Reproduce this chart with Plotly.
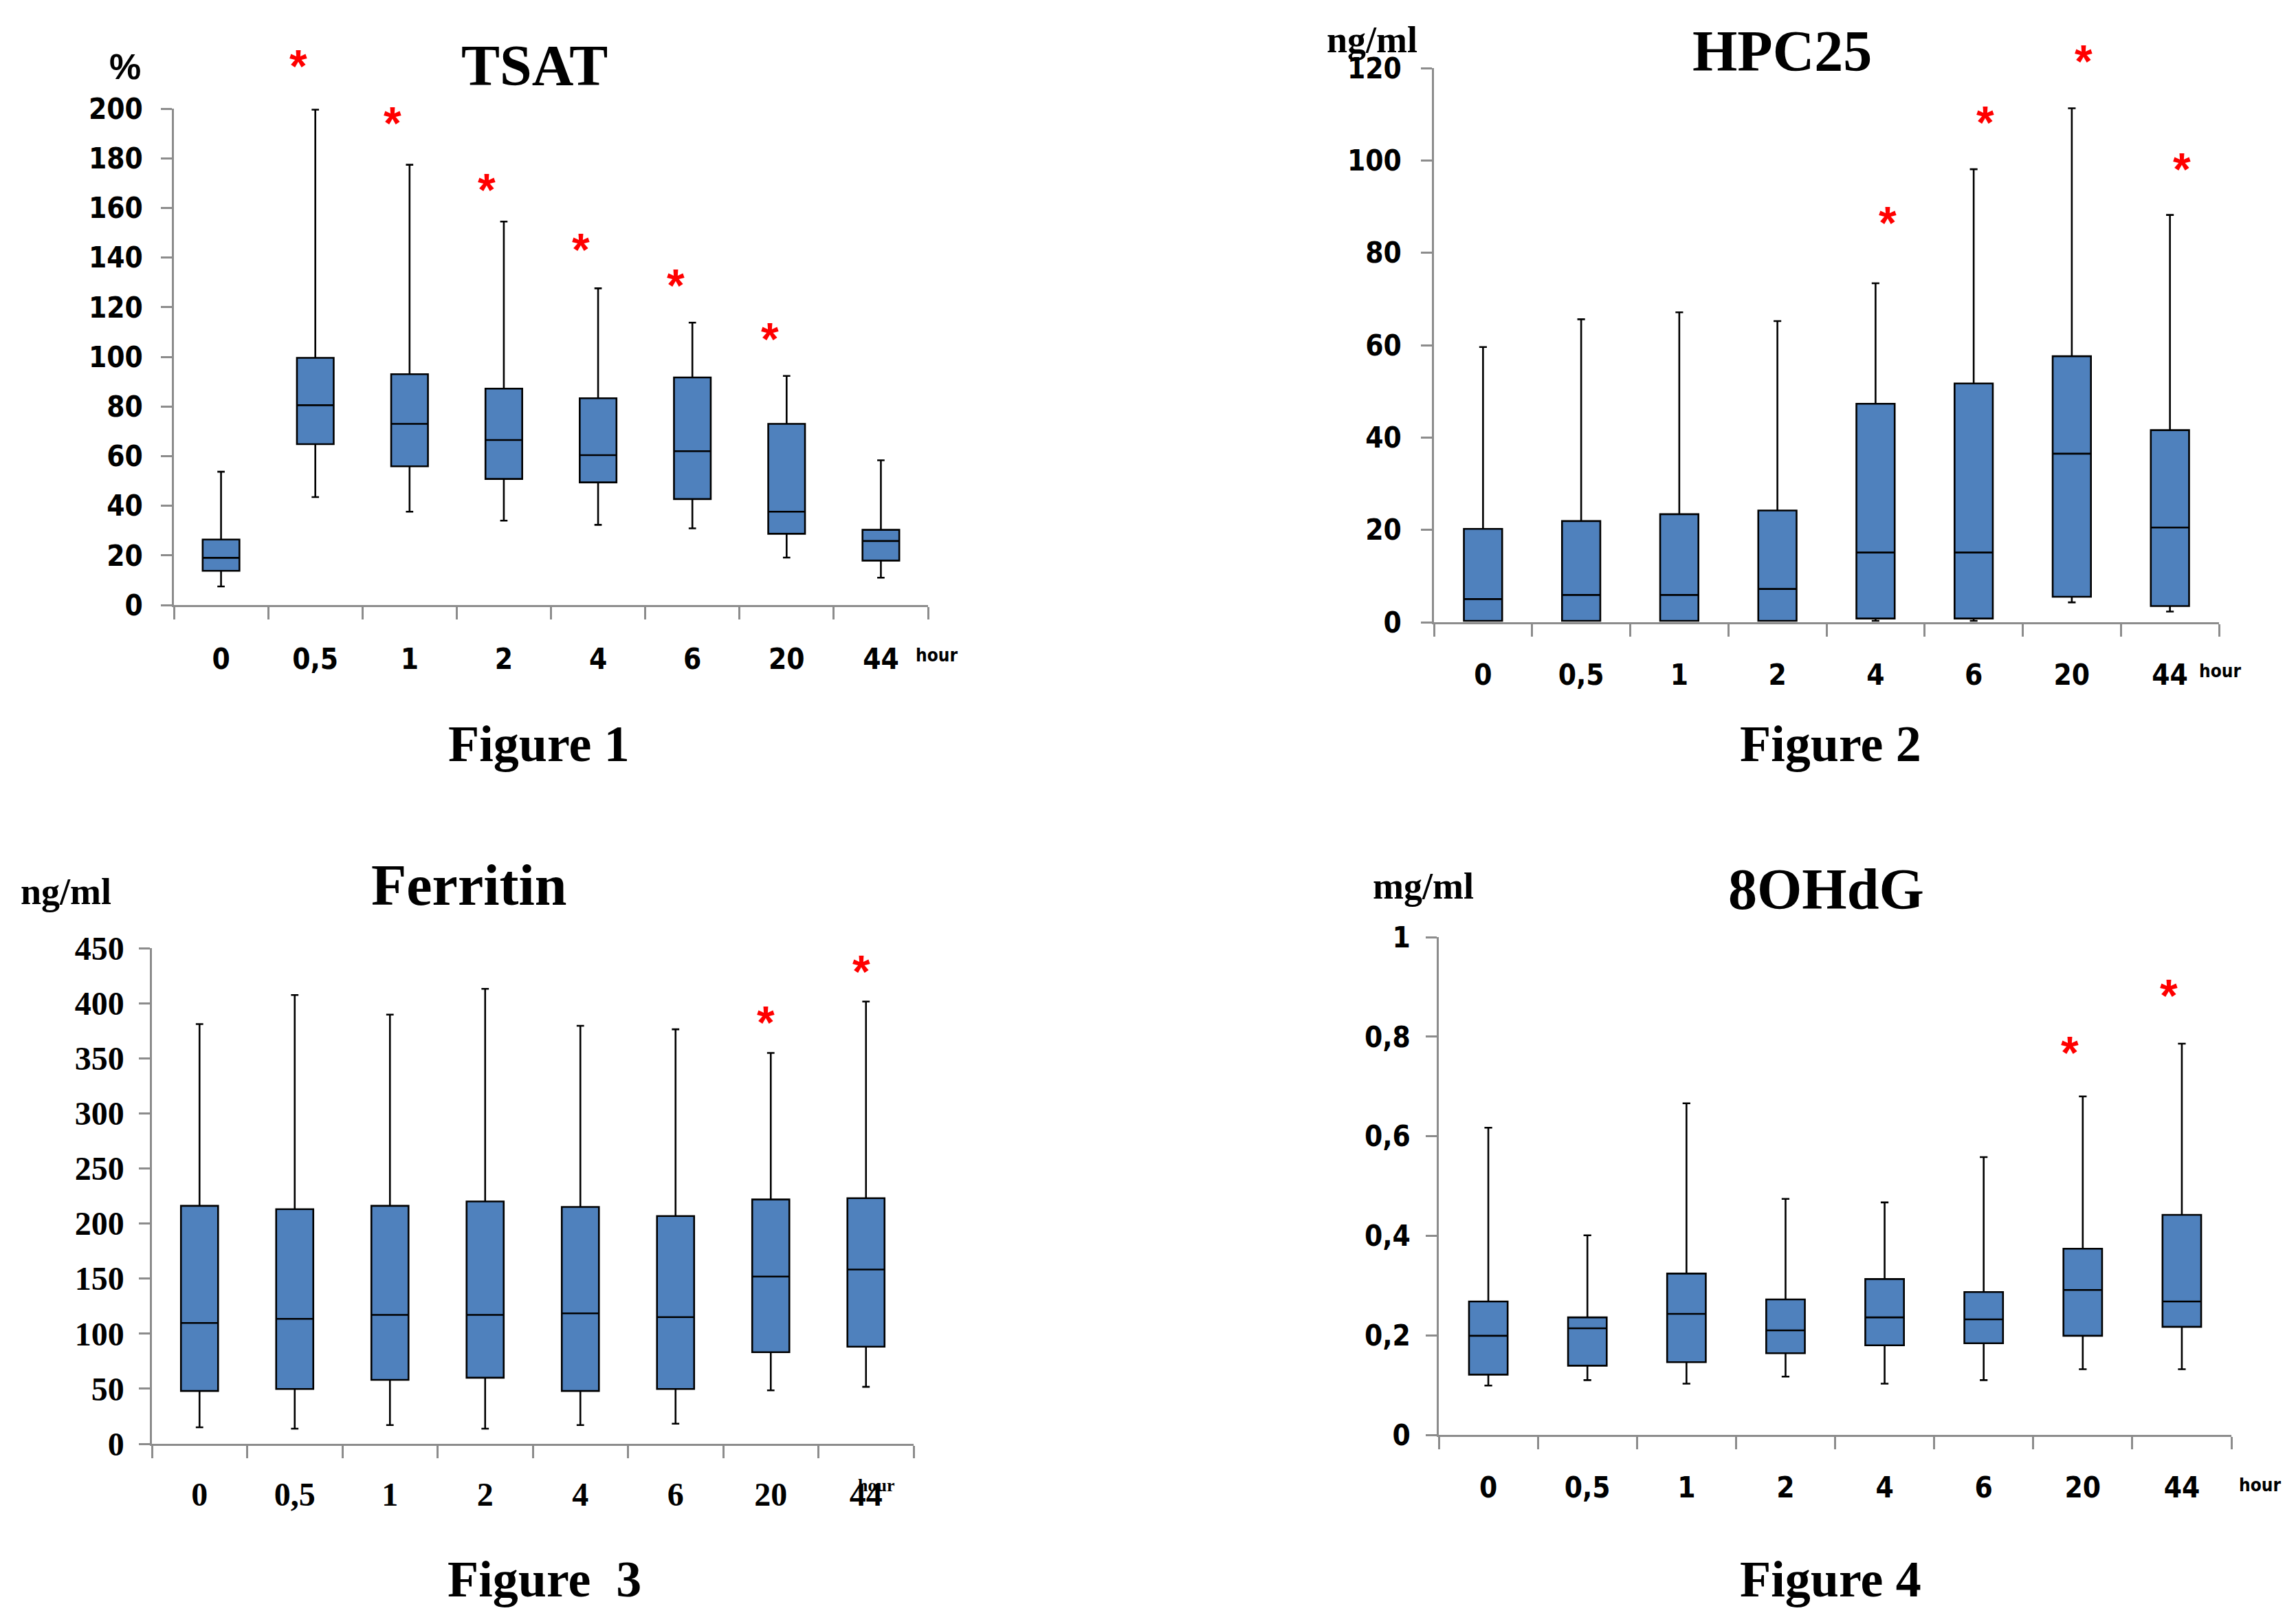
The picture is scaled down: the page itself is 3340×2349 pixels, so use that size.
import plotly.graph_objects as go

# Reference canvas (pixels); the page body adds an 8px margin around the figure.
W, H = 3340, 2349
OFF = 8
FW, FH = W - 2 * OFF, H - 2 * OFF

categories = ["0", "0,5", "1", "2", "4", "6", "20", "44"]

# TSAT (%)
tsat_min = [7.5, 43.5, 37.6, 34.0, 32.3, 30.9, 19.1, 11.0]
tsat_q1 = [13.8, 64.8, 55.9, 50.8, 49.4, 42.7, 28.7, 17.9]
tsat_med = [19.0, 80.5, 73.0, 66.5, 60.4, 62.0, 37.6, 25.8]
tsat_q3 = [26.4, 99.6, 93.0, 87.2, 83.3, 91.7, 73.0, 30.3]
tsat_max = [53.7, 199.6, 177.4, 154.5, 127.6, 113.8, 92.3, 58.3]
tsat_star_idx = [1, 2, 3, 4, 5, 6]
tsat_star_y = [220, 197, 170, 146, 131.5, 110]
tsat_ticks = [0, 20, 40, 60, 80, 100, 120, 140, 160, 180, 200]
tsat_ticktext = ["0", "20", "40", "60", "80", "100", "120", "140", "160", "180", "200"]

# HPC25 (ng/ml)
hpc_min = [0.3, 0.3, 0.3, 0.3, 0.3, 0.3, 4.3, 2.3]
hpc_q1 = [0.3, 0.3, 0.3, 0.3, 0.8, 0.8, 5.5, 3.5]
hpc_med = [5.0, 5.9, 5.9, 7.2, 15.1, 15.1, 36.5, 20.5]
hpc_q3 = [20.2, 21.9, 23.4, 24.2, 47.3, 51.7, 57.6, 41.6]
hpc_max = [59.6, 65.6, 67.1, 65.2, 73.4, 98.1, 111.3, 88.2]
hpc_star_idx = [4, 5, 6, 7]
hpc_star_y = [88, 109.8, 123, 99.6]
hpc_ticks = [0, 20, 40, 60, 80, 100, 120]
hpc_ticktext = ["0", "20", "40", "60", "80", "100", "120"]

# Ferritin (ng/ml)
fer_min = [15, 13.7, 17, 13.7, 17, 18.3, 48.5, 51.7]
fer_q1 = [48, 49.8, 58, 60, 48, 49.8, 83.2, 88.2]
fer_med = [109.7, 113.4, 117, 117, 118.4, 115, 151.8, 158.2]
fer_q3 = [216, 213, 216, 220, 215, 206.7, 221.8, 223]
fer_max = [381, 407.4, 389.6, 413, 379.5, 376.3, 354.8, 401.5]
fer_star_idx = [6, 7]
fer_star_y = [388.7, 435.3]
fer_ticks = [0, 50, 100, 150, 200, 250, 300, 350, 400, 450]
fer_ticktext = ["0", "50", "100", "150", "200", "250", "300", "350", "400", "450"]

# 8OHdG (mg/ml)
ohd_min = [0.099, 0.110, 0.103, 0.117, 0.103, 0.110, 0.132, 0.132]
ohd_q1 = [0.121, 0.139, 0.146, 0.164, 0.180, 0.184, 0.199, 0.217]
ohd_med = [0.199, 0.214, 0.243, 0.210, 0.236, 0.232, 0.291, 0.268]
ohd_q3 = [0.268, 0.236, 0.324, 0.272, 0.313, 0.287, 0.374, 0.442]
ohd_max = [0.617, 0.401, 0.666, 0.474, 0.467, 0.558, 0.680, 0.786]
ohd_star_idx = [6, 7]
ohd_star_y = [0.782, 0.896]
ohd_ticks = [0, 0.2, 0.4, 0.6, 0.8, 1.0]
ohd_ticktext = ["0", "0,2", "0,4", "0,6", "0,8", "1"]

BOX_FILL = "#4F81BD"
AXIS_GRAY = "#8c8c8c"
SANS = "Liberation Sans Narrow, DejaVu Sans Condensed, Liberation Sans, sans-serif"
SERIF = "Liberation Serif, Times New Roman, serif"


def fx(px):
    return (px - OFF) / FW


def fy(py):
    return 1 - (py - OFF) / FH


panels = [
    dict(mins=tsat_min, q1=tsat_q1, med=tsat_med, q3=tsat_q3, maxs=tsat_max,
         sidx=tsat_star_idx, sy=tsat_star_y, soff=-0.18,
         ticks=tsat_ticks, ticktext=tsat_ticktext, yr=[0, 200],
         xpx=(253, 1350), ypx=(158, 880), tickfont=SANS, tfs=42, ystand=18, xstand=40),
    dict(mins=hpc_min, q1=hpc_q1, med=hpc_med, q3=hpc_q3, maxs=hpc_max,
         sidx=hpc_star_idx, sy=hpc_star_y, soff=0.12,
         ticks=hpc_ticks, ticktext=hpc_ticktext, yr=[0, 120],
         xpx=(2086, 3228), ypx=(99, 905), tickfont=SANS, tfs=42, ystand=20, xstand=38),
    dict(mins=fer_min, q1=fer_q1, med=fer_med, q3=fer_q3, maxs=fer_max,
         sidx=fer_star_idx, sy=fer_star_y, soff=-0.05,
         ticks=fer_ticks, ticktext=fer_ticktext, yr=[0, 450],
         xpx=(221, 1329), ypx=(1379, 2100), tickfont=SERIF, tfs=48, ystand=12, xstand=30),
    dict(mins=ohd_min, q1=ohd_q1, med=ohd_med, q3=ohd_q3, maxs=ohd_max,
         sidx=ohd_star_idx, sy=ohd_star_y, soff=-0.13,
         ticks=ohd_ticks, ticktext=ohd_ticktext, yr=[0, 1],
         xpx=(2093, 3246), ypx=(1363, 2087), tickfont=SANS, tfs=42, ystand=14, xstand=38),
]

fig = go.Figure()
annotations = []
layout_axes = {}
STAR_FONT = dict(family="Liberation Sans, Arial, sans-serif", size=66,
                 color="#ff0000", weight="bold")

for i, p in enumerate(panels):
    n = "" if i == 0 else str(i + 1)
    sn = str(i + 5)
    xref, yref, sref = "x" + n, "y" + n, "y" + sn
    xd = [fx(p["xpx"][0]), fx(p["xpx"][1])]
    yd = [fy(p["ypx"][1]), fy(p["ypx"][0])]

    fig.add_trace(go.Box(
        x=list(range(len(categories))),
        q1=p["q1"], median=p["med"], q3=p["q3"],
        lowerfence=p["mins"], upperfence=p["maxs"],
        xaxis=xref, yaxis=yref,
        fillcolor=BOX_FILL, line=dict(color="black", width=2.6),
        width=0.39, whiskerwidth=0.2, boxpoints=False,
        showlegend=False, hoverinfo="skip",
    ))

    # Hidden companion y axis with the same scale but extending higher,
    # so that significance stars above the plotted range can be placed.
    k = min(1.15, (1 - yd[0]) / (yd[1] - yd[0]) * 0.999)
    fig.add_trace(go.Scatter(x=[], y=[], xaxis=xref, yaxis=sref,
                             showlegend=False, hoverinfo="skip"))
    layout_axes["yaxis" + sn] = dict(
        domain=[yd[0], yd[0] + (yd[1] - yd[0]) * k], anchor=xref,
        range=[p["yr"][0], p["yr"][0] + (p["yr"][1] - p["yr"][0]) * k],
        visible=False, showgrid=False, zeroline=False, automargin=False,
    )
    for idx, yv in zip(p["sidx"], p["sy"]):
        annotations.append(dict(
            x=idx + p["soff"], y=yv, xref=xref, yref=sref, text="*",
            showarrow=False, yshift=-10, font=STAR_FONT,
        ))

    tf = dict(family=p["tickfont"], size=p["tfs"], color="black", weight="bold")
    layout_axes["xaxis" + n] = dict(
        domain=xd, anchor=yref, range=[-0.5, len(categories) - 0.5],
        tickmode="array", tickvals=list(range(len(categories))), ticktext=categories,
        ticks="", ticklabelstandoff=p["xstand"], tickfont=tf, automargin=False,
        showline=True, linecolor=AXIS_GRAY, linewidth=2.5,
        showgrid=False, zeroline=False,
        minor=dict(tickmode="array",
                   tickvals=[k2 - 0.5 for k2 in range(len(categories) + 1)],
                   ticks="outside", ticklen=18, tickwidth=2.5, tickcolor=AXIS_GRAY,
                   showgrid=False),
    )
    layout_axes["yaxis" + n] = dict(
        domain=yd, anchor=xref, range=p["yr"],
        tickmode="array", tickvals=p["ticks"], ticktext=p["ticktext"],
        ticks="outside", ticklen=16, tickwidth=2.5, tickcolor=AXIS_GRAY,
        ticklabelstandoff=p["ystand"], tickfont=tf, automargin=False,
        showline=True, linecolor=AXIS_GRAY, linewidth=2.5,
        showgrid=False, zeroline=False,
    )

TITLE_FONT = dict(family=SERIF, size=84, color="black", weight="bold")
FIG_FONT = dict(family=SERIF, size=74, color="black", weight="bold")
UNIT_FONT = dict(family=SERIF, size=54, color="black", weight="bold")
HOUR_SANS = dict(family=SANS, size=26, color="black", weight="bold")
HOUR_SERIF = dict(family=SERIF, size=26, color="black", weight="bold")

text_items = [
    # (text, x_px, y_px, font)
    ("TSAT", 777, 96, TITLE_FONT),
    ("Figure 1", 784, 1082, FIG_FONT),
    ("HPC25", 2592, 75, TITLE_FONT),
    ("Figure 2", 2663, 1082, FIG_FONT),
    ("Ferritin", 682, 1287, TITLE_FONT),
    ("Figure\u00a0\u00a03", 792, 2297, FIG_FONT),
    ("8OHdG", 2656, 1293, TITLE_FONT),
    ("Figure 4", 2663, 2297, FIG_FONT),
    ("%", 182, 97, dict(family="Liberation Sans, sans-serif", size=52, color="black", weight="bold")),
    ("ng/ml", 1996, 58, UNIT_FONT),
    ("ng/ml", 96, 1297, UNIT_FONT),
    ("mg/ml", 2070, 1289, UNIT_FONT),
    ("hour", 1362, 953, HOUR_SANS),
    ("hour", 3229, 976, HOUR_SANS),
    ("hour", 1274, 2160, HOUR_SERIF),
    ("hour", 3287, 2160, HOUR_SANS),
]
for t, xp, yp, f in text_items:
    annotations.append(dict(
        text=t, x=fx(xp), y=fy(yp), xref="paper", yref="paper",
        xanchor="center", yanchor="middle", showarrow=False, font=f,
    ))

fig.update_layout(
    width=FW, height=FH,
    margin=dict(l=0, r=0, t=0, b=0),
    paper_bgcolor="white", plot_bgcolor="rgba(0,0,0,0)",
    annotations=annotations,
    **layout_axes,
)

fig.write_html("out.html")
